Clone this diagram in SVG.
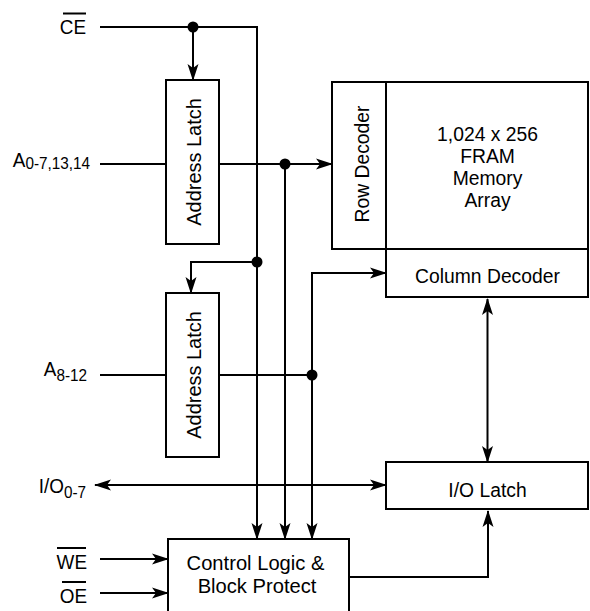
<svg xmlns="http://www.w3.org/2000/svg" width="590" height="611" viewBox="0 0 590 611">
<style>
  .box { fill: #fff; stroke: #000; stroke-width: 2; }
  .wire { fill: none; stroke: #000; stroke-width: 2; }
  .dot { fill: #000; }
  .lbl { font-family: "Liberation Sans", Arial, sans-serif; font-size: 21px; fill: #000; text-anchor: middle; }
  .pin { font-family: "Liberation Sans", Arial, sans-serif; font-size: 21px; fill: #000; text-anchor: end; }
  .sub { font-size: 17px; }
  .bar { stroke: #000; stroke-width: 2; }
</style>
<defs>
  <marker id="ah" viewBox="-17 -6 18 12" refX="0" refY="0" markerWidth="18" markerHeight="12" markerUnits="userSpaceOnUse" orient="auto-start-reverse">
    <path d="M1,0 L-16,-5.5 L-12,0 L-16,5.5 Z" fill="#000"/>
  </marker>
</defs>

<g id="connectors">
  <path class="wire" d="M100,27 H257 V539" marker-end="url(#ah)"/>
  <path class="wire" d="M193,27 V80" marker-end="url(#ah)"/>
  <path class="wire" d="M257,262 H191 V293" marker-end="url(#ah)"/>
  <path class="wire" d="M100,164 H166"/>
  <path class="wire" d="M219,164 H332" marker-end="url(#ah)"/>
  <path class="wire" d="M285,164 V539" marker-end="url(#ah)"/>
  <path class="wire" d="M100,375 H166"/>
  <path class="wire" d="M219,375 H312"/>
  <path class="wire" d="M386,273 H312 V539" marker-start="url(#ah)" marker-end="url(#ah)"/>
  <path class="wire" d="M487.5,299 V462" marker-start="url(#ah)" marker-end="url(#ah)"/>
  <path class="wire" d="M95,485 H386" marker-start="url(#ah)" marker-end="url(#ah)"/>
  <path class="wire" d="M100,559 H168" marker-end="url(#ah)"/>
  <path class="wire" d="M100,593 H168" marker-end="url(#ah)"/>
  <path class="wire" d="M349,577 H488 V511" marker-end="url(#ah)"/>
  <circle class="dot" cx="193" cy="27" r="5.5"/>
  <circle class="dot" cx="285" cy="164" r="5.5"/>
  <circle class="dot" cx="257" cy="262" r="5.5"/>
  <circle class="dot" cx="312" cy="375" r="5.5"/>
</g>

<g id="pin-ce">
  <text class="pin" transform="translate(86,34) scale(0.9,1)">CE</text>
  <line class="bar" x1="63" y1="13.5" x2="86" y2="13.5"/>
</g>
<g id="pin-a0">
  <text class="pin" transform="translate(90,167) scale(0.9,1)">A<tspan class="sub" dy="2">0-7,13,14</tspan></text>
</g>
<g id="pin-a8">
  <text class="pin" transform="translate(87,376) scale(0.9,1)">A<tspan class="sub" dy="5">8-12</tspan></text>
</g>
<g id="pin-io">
  <text class="pin" transform="translate(86,493) scale(0.9,1)">I/O<tspan class="sub" dy="4.5">0-7</tspan></text>
</g>
<g id="pin-we">
  <text class="pin" transform="translate(87,569) scale(0.9,1)">WE</text>
  <line class="bar" x1="57" y1="548" x2="86" y2="548"/>
</g>
<g id="pin-oe">
  <text class="pin" transform="translate(87,603) scale(0.9,1)">OE</text>
  <line class="bar" x1="62" y1="582" x2="86" y2="582"/>
</g>

<g id="address-latch-1">
  <rect class="box" x="166" y="80" width="53" height="164"/>
  <text class="lbl" transform="translate(200.5,162) rotate(-90) scale(0.95,1)">Address Latch</text>
</g>
<g id="address-latch-2">
  <rect class="box" x="166" y="293" width="53" height="164"/>
  <text class="lbl" transform="translate(200.5,375) rotate(-90) scale(0.95,1)">Address Latch</text>
</g>
<g id="row-decoder">
  <rect class="box" x="332" y="82" width="54" height="167"/>
  <text class="lbl" transform="translate(368.5,164) rotate(-90) scale(0.92,1)">Row Decoder</text>
</g>
<g id="memory-array">
  <rect class="box" x="386" y="82" width="202" height="167"/>
  <text class="lbl" transform="translate(487.5,141) scale(0.92,1)">1,024 x 256</text>
  <text class="lbl" transform="translate(487.5,163) scale(0.92,1)">FRAM</text>
  <text class="lbl" transform="translate(487.5,185) scale(0.92,1)">Memory</text>
  <text class="lbl" transform="translate(487.5,207) scale(0.92,1)">Array</text>
</g>
<g id="column-decoder">
  <rect class="box" x="386" y="249" width="202" height="48"/>
  <text class="lbl" transform="translate(487.5,283) scale(0.92,1)">Column Decoder</text>
</g>
<g id="io-latch">
  <rect class="box" x="386" y="462" width="202" height="47"/>
  <text class="lbl" transform="translate(487.5,497) scale(0.92,1)">I/O Latch</text>
</g>
<g id="control-logic">
  <rect class="box" x="168" y="539" width="181" height="90"/>
  <text class="lbl" transform="translate(255.5,570) scale(0.96,1)">Control Logic &amp;</text>
  <text class="lbl" transform="translate(257,593) scale(0.96,1)">Block Protect</text>
</g>
</svg>
